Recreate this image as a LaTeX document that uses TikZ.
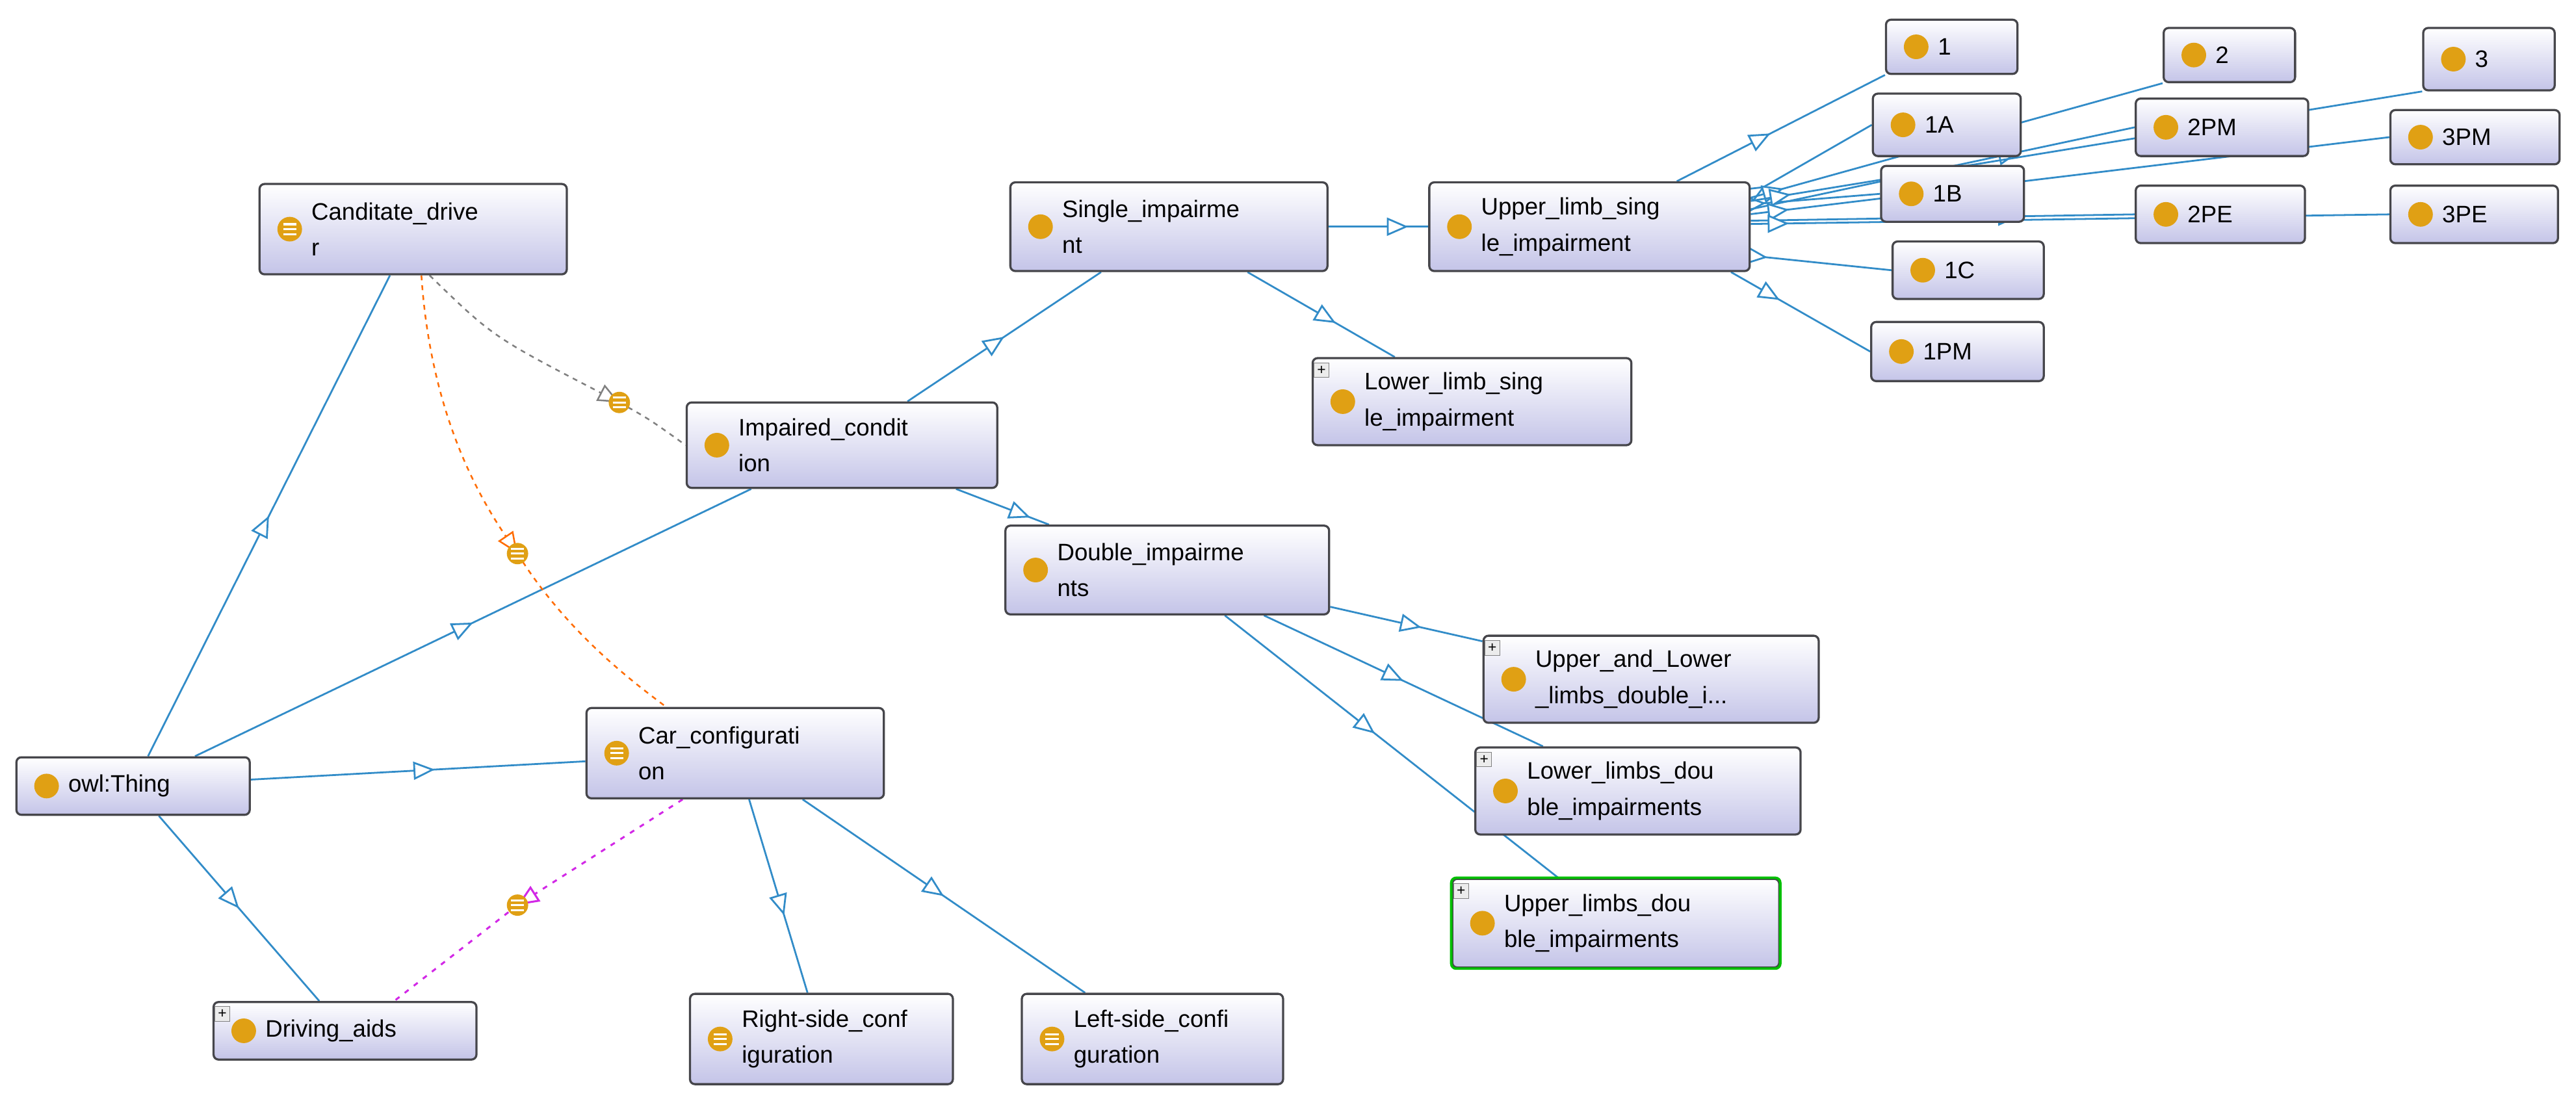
\documentclass[tikz,border=0pt]{standalone}
\usepackage{fontspec}
\setmainfont{Liberation Sans}
\usetikzlibrary{arrows.meta,decorations.markings}
\pgfdeclarelayer{background}
\pgfsetlayers{background,main}
\definecolor{lav}{RGB}{196,196,232}
\definecolor{ebl}{RGB}{50,140,200}
\definecolor{ico}{RGB}{224,160,20}
\definecolor{brd}{RGB}{70,70,75}
\definecolor{mag}{RGB}{210,40,230}
\tikzset{
 box/.style={draw=brd,line width=1.3pt,rounded corners=3pt,top color=white,bottom color=lav,inner sep=0pt},
 ic/.style={circle,fill=ico,minimum size=15pt,inner sep=0pt},
 eq/.style={ic,path picture={\draw[white,line width=1.2pt] ([xshift=-4pt,yshift=3pt]path picture bounding box.center)--++(8pt,0) ([xshift=-4pt]path picture bounding box.center)--++(8pt,0) ([xshift=-4pt,yshift=-3pt]path picture bounding box.center)--++(8pt,0);}},
 lbl/.style={font=\fontsize{14.5}{22}\selectfont,align=left,inner sep=0pt,anchor=west},
 plus/.style={draw=gray,fill=gray!15,minimum size=9pt,inner sep=0pt,font=\fontsize{9}{9}\selectfont},
 sub/.style={draw=ebl,line width=1.1pt,postaction={decorate},decoration={markings,mark=at position #1 with {\arrow[ebl,line width=1.1pt]{Triangle[open,fill=white,length=13pt,width=11pt]}}}},
 sub/.default=0.5,
 opentip/.style={-{Triangle[open,fill=white,length=13pt,width=11pt]}},
}
\newcommand\cls[7]{%
 \node[box,minimum width={#4pt-#2pt},minimum height={#5pt-#3pt}] (#1) at ({(#2+#4)/2},{(#3+#5)/2}) {};
 \node[#7] (#1-i) at ([xshift=19pt]#1.west) {};
 \node[lbl] (#1-t) at ([xshift=32pt]#1.west) {#6};}
\newcommand\plusbox[1]{\node[plus] (#1-p) at ([xshift=6pt,yshift=-8pt]#1.north west) {+};}
\begin{document}
\begin{tikzpicture}[x=1pt,y=-1pt]
\useasboundingbox (0,0) rectangle (1568,670);
% nodes
\cls{thing}{10}{461}{152}{496}{owl:Thing}{ic}
\cls{aids}{130}{610}{290}{645}{Driving\_aids}{ic}\plusbox{aids}
\cls{cand}{158}{112}{345}{167}{Canditate\_drive\\r}{eq}
\cls{imp}{418}{245}{607}{297}{Impaired\_condit\\ion}{ic}
\cls{car}{357}{431}{538}{486}{Car\_configurati\\on}{eq}
\cls{single}{615}{111}{808}{165}{Single\_impairme\\nt}{ic}
\cls{double}{612}{320}{809}{374}{Double\_impairme\\nts}{ic}
\cls{uls}{870}{111}{1065}{165}{Upper\_limb\_sing\\le\_impairment}{ic}
\cls{lls}{799}{218}{993}{271}{Lower\_limb\_sing\\le\_impairment}{ic}\plusbox{lls}
\cls{uld}{903}{387}{1107}{440}{Upper\_and\_Lower\\\_limbs\_double\_i...}{ic}\plusbox{uld}
\cls{lld}{898}{455}{1096}{508}{Lower\_limbs\_dou\\ble\_impairments}{ic}\plusbox{lld}
\cls{upd}{884}{535}{1083}{589}{Upper\_limbs\_dou\\ble\_impairments}{ic}\plusbox{upd}
\draw[green!75!black,line width=1.5pt,rounded corners=3pt] (upd.north west) rectangle (upd.south east);
\cls{right}{420}{605}{580}{660}{Right-side\_conf\\iguration}{eq}
\cls{left}{622}{605}{781}{660}{Left-side\_confi\\guration}{eq}
\cls{i1}{1148}{12}{1228}{45}{1}{ic}
\cls{i1A}{1140}{57}{1230}{95}{1A}{ic}
\cls{i1B}{1145}{101}{1232}{135}{1B}{ic}
\cls{i1C}{1152}{147}{1244}{182}{1C}{ic}
\cls{i1PM}{1139}{196}{1244}{232}{1PM}{ic}
\cls{i2}{1317}{17}{1397}{50}{2}{ic}
\cls{i2PM}{1300}{60}{1405}{95}{2PM}{ic}
\cls{i2PE}{1300}{113}{1403}{148}{2PE}{ic}
\cls{i3}{1475}{17}{1555}{55}{3}{ic}
\cls{i3PM}{1455}{67}{1558}{100}{3PM}{ic}
\cls{i3PE}{1455}{113}{1557}{148}{3PE}{ic}
\begin{pgfonlayer}{background}
% subclass edges
\draw[sub=0.5] (thing) -- (cand);
\draw[sub=0.5] (thing) -- (imp);
\draw[sub=0.55] (thing) -- (car);
\draw[sub=0.5] (thing) -- (aids);
\draw[sub=0.5] (imp) -- (single);
\draw[sub=0.8] (imp) -- (double);
\draw[sub=0.8] (single) -- (uls);
\draw[sub=0.6] (single) -- (lls);
\draw[sub=0.6] (double) -- (uld);
\draw[sub=0.5] (double) -- (lld);
\draw[sub=0.45] (double) -- (upd);
\draw[sub=0.6] (car) -- (right);
\draw[sub=0.5] (car) -- (left);
% individuals
\draw[sub=0.45] ([xshift=-45pt]uls.north east) -- (i1.south west);
\draw[sub=0.12] ([yshift=-8pt]uls.north east) -- (i1A.west);
\draw[sub=0.12] ([yshift=-14pt]uls.north east) -- (i1B.west);
\draw[sub=0.12] ([yshift=10pt]uls.south east) -- (i1C.west);
\draw[sub=0.35] ([xshift=-12pt]uls.south east) -- (i1PM.west);
\draw[sub=0.08] ([yshift=-10pt]uls.north east) -- (i2.south west);
\draw[sub=0.7] ([yshift=-17pt]uls.north east) -- (i2PM.west);
\draw[sub=0.7] ([yshift=-24pt]uls.north east) -- (i2PE.west);
\draw[sub=0.06] ([yshift=-12pt]uls.north east) -- (i3.south west);
\draw[sub=0.06] ([yshift=-20pt]uls.north east) -- (i3PM.west);
\draw[sub=0.06] ([yshift=-26pt]uls.north east) -- (i3PE.west);
% equivalence edges
\draw[gray,dashed,line width=1pt,opentip] (cand.south) ++(10,0) coordinate (c1) .. controls (300,205) .. (377,245) coordinate (k1);
\draw[gray,dashed,line width=1pt] (k1) .. controls (395,255) .. (imp.west);
\draw[orange!85!red,dashed,line width=1pt,opentip] (cand.south) ++(5,0) coordinate (c2) .. controls (262,250) and (290,300) .. (315,337) coordinate (k2);
\draw[orange!85!red,dashed,line width=1pt] (k2) .. controls (345,385) and (385,415) .. ([xshift=-42pt]car.north);
\draw[mag,dash pattern=on 3pt off 4pt,line width=1.2pt,opentip] ([xshift=-32pt]car.south) coordinate (c3) -- (315,551) coordinate (k3);
\draw[mag,dash pattern=on 3pt off 4pt,line width=1.2pt] (k3) -- ([xshift=30pt]aids.north);
\end{pgfonlayer}
\node[eq,minimum size=13pt] (e1) at (k1) {};
\node[eq,minimum size=13pt] (e2) at (k2) {};
\node[eq,minimum size=13pt] (e3) at (k3) {};
\end{tikzpicture}
\end{document}
